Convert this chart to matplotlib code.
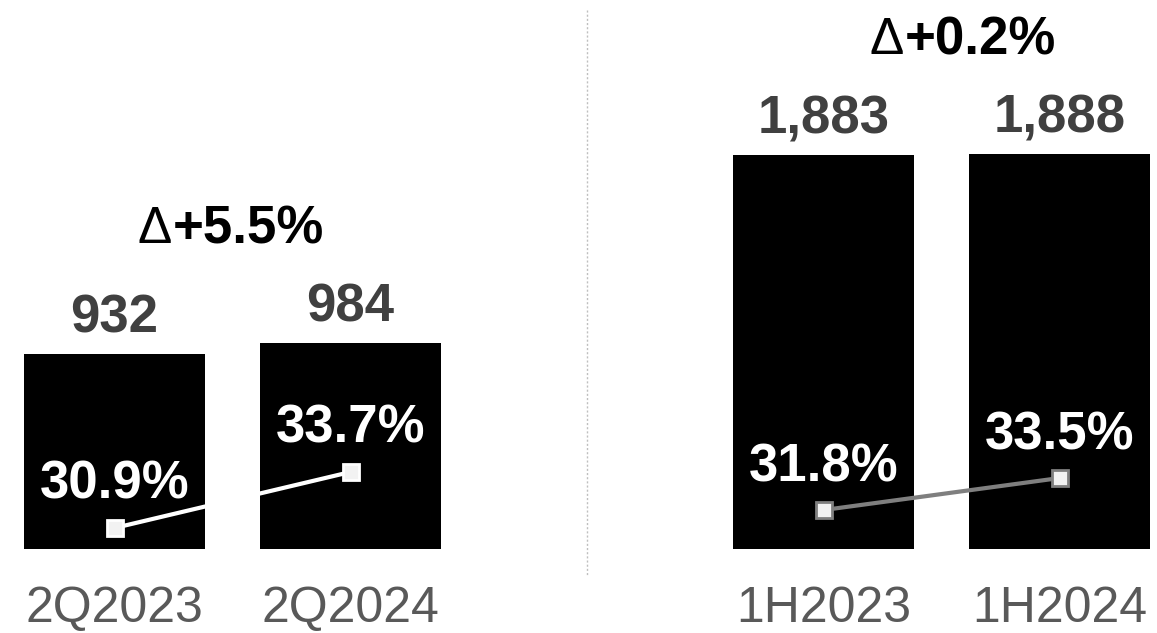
import matplotlib
matplotlib.use("Agg")
import matplotlib.pyplot as plt
from matplotlib.offsetbox import TextArea, HPacker, AnnotationBbox

plt.rcParams["font.family"] = ["Liberation Sans", "DejaVu Sans"]

# Quarterly panel
q_periods = ["2Q2023", "2Q2024"]
q_values = [932, 984]
q_margin = [30.9, 33.7]
q_delta = "+5.5%"

# Half-year panel
h_periods = ["1H2023", "1H2024"]
h_values = [1883, 1888]
h_margin = [31.8, 33.5]
h_delta = "+0.2%"

W, H, DPI = 1157, 633, 100
fig = plt.figure(figsize=(W / DPI, H / DPI), dpi=DPI)

BASE = 549          # pixel row of the bar baseline (from top)
PX_PER_UNIT = 0.2092
SLOT = 236          # pixel spacing between bar centres
BAR_PX = 181

VALUE_GREY = "#404040"
LABEL_GREY = "#595959"


def px_to_pt(px):
    return px * 72 / DPI


def panel(center0, periods, values, margin, delta, m_lim, line_color, edge_color,
          delta_dx_px):
    left_px = center0 - SLOT / 2
    ax = fig.add_axes([left_px / W, (H - BASE) / H, 2 * SLOT / W, BASE / H])
    ax.set_xlim(-0.5, 1.5)
    ax.set_ylim(0, BASE / PX_PER_UNIT)
    x = [0, 1]
    ax.bar(x, values, width=BAR_PX / SLOT, color="black", zorder=1)
    for xi, v in zip(x, values):
        ax.annotate(f"{v:,}", (xi, v), xytext=(0, px_to_pt(22)),
                    textcoords="offset points", ha="center", va="baseline",
                    fontsize=38, fontweight="bold", color=VALUE_GREY)

    # change label: thin delta sign followed by the bold figure
    parts = HPacker(children=[
        TextArea("\u0394", textprops=dict(fontsize=37, color="black")),
        TextArea(delta, textprops=dict(fontsize=38, fontweight="bold",
                                       color="black")),
    ], align="baseline", pad=0, sep=1)
    ab = AnnotationBbox(parts, (0.5, max(values)),
                        xybox=(px_to_pt(delta_dx_px), px_to_pt(89)),
                        xycoords="data", boxcoords="offset points",
                        box_alignment=(0.5, 0.0), frameon=False,
                        annotation_clip=False)
    ax.add_artist(ab)

    ax.set_xticks(x)
    ax.set_xticklabels(periods, fontsize=36, color=LABEL_GREY)
    ax.tick_params(axis="x", length=0, pad=px_to_pt(73))
    for t in ax.get_xticklabels():
        t.set_va("baseline")
    ax.set_yticks([])
    for s in ax.spines.values():
        s.set_visible(False)
    ax.patch.set_alpha(0)

    ax2 = ax.twinx()
    ax2.set_ylim(*m_lim)
    ax2.plot(x, margin, color=line_color, lw=3, marker="s", markersize=11,
             markerfacecolor="#f2f2f2", markeredgecolor=edge_color,
             markeredgewidth=2, zorder=3, solid_capstyle="butt")
    for xi, m in zip(x, margin):
        ax2.annotate(f"{m:.1f}%", (xi, m), xytext=(0, px_to_pt(29)),
                     textcoords="offset points", ha="center", va="baseline",
                     fontsize=38, fontweight="bold", color="white")
    ax2.set_yticks([])
    for s in ax2.spines.values():
        s.set_visible(False)
    return ax


panel(114.5, q_periods, q_values, q_margin, q_delta,
      (29.85, 29.85 + BASE / 20.0), "white", "white", -2)
panel(823.5, h_periods, h_values, h_margin, h_delta,
      (29.73, 29.73 + BASE / 18.82), "#7f7f7f", "#7f7f7f", 21)

# dotted divider between the two panels
fig.add_artist(plt.Line2D([587 / W, 587 / W], [(H - 10) / H, (H - 575) / H],
                          transform=fig.transFigure, color="#bfbfbf", lw=1,
                          linestyle=(0, (1.5, 1.5))))

fig.savefig("out.png", dpi=DPI)
